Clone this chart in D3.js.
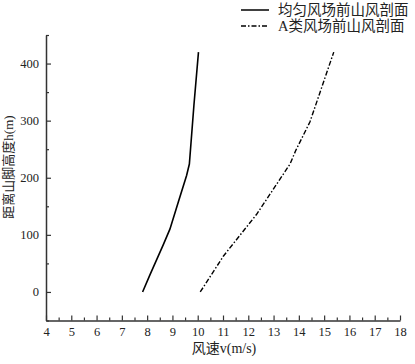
<!DOCTYPE html>
<html>
<head>
<meta charset="utf-8">
<script src="https://cdn.jsdelivr.net/npm/d3@7"></script>
<style>
  body { margin: 0; background: #fff; }
</style>
</head>
<body>
<div id="chart"></div>
<script>
// 数据
const seriesNames = ["均匀风场前山风剖面", "A类风场前山风剖面"];
const uniformV = [7.82, 8.11, 8.64, 8.90, 9.23, 9.56, 9.67, 9.85, 10.03];
const uniformH = [0, 30, 83, 110, 157, 204, 224, 327, 420];
const classAV = [10.1, 11.02, 12.33, 13.65, 13.88, 14.44, 15.38];
const classAH = [0, 63, 136, 224, 248, 298, 420];
const xTicks = [4, 5, 6, 7, 8, 9, 10, 11, 12, 13, 14, 15, 16, 17, 18];
const yTicks = [0, 100, 200, 300, 400];

const width = 415, height = 364;
const serif = "'Liberation Serif', 'Times New Roman', 'DejaVu Serif', 'Noto Sans CJK SC', serif";

const svg = d3.select("#chart").append("svg")
    .attr("width", width)
    .attr("height", height);

// 比例尺
const x = d3.scaleLinear().domain([4, 18]).range([46, 400]);
const y = d3.scaleLinear().domain([-50, 450]).range([320.5, 35]);

// 次刻度
const xMinor = d3.range(4.5, 18, 1);
const yMinor = d3.range(-50, 451, 100);

svg.append("g")
    .attr("transform", `translate(0, ${y(-50)})`)
    .call(d3.axisBottom(x).tickValues(xMinor).tickSize(-3).tickFormat(""))
    .call(g => g.select(".domain").remove())
    .selectAll("line").attr("stroke", "#333").attr("stroke-width", 1.2);

svg.append("g")
    .attr("transform", `translate(${x(4)}, 0)`)
    .call(d3.axisLeft(y).tickValues(yMinor).tickSize(-3).tickFormat(""))
    .call(g => g.select(".domain").remove())
    .selectAll("line").attr("stroke", "#333").attr("stroke-width", 1.2);

// 主坐标轴
const xAxis = svg.append("g")
    .attr("transform", `translate(0, ${y(-50)})`)
    .call(d3.axisBottom(x).tickValues(xTicks).tickSize(-5).tickSizeOuter(0).tickPadding(7));

const yAxis = svg.append("g")
    .attr("transform", `translate(${x(4)}, 0)`)
    .call(d3.axisLeft(y).tickValues(yTicks).tickSize(-5).tickSizeOuter(0).tickPadding(7));

[xAxis, yAxis].forEach(g => {
    g.attr("font-family", serif);
    g.select(".domain").attr("stroke", "#333").attr("stroke-width", 1.5);
    g.selectAll(".tick line").attr("stroke", "#333").attr("stroke-width", 1.2);
    g.selectAll(".tick text")
        .style("font-family", serif)
        .attr("font-size", 12.5)
        .attr("fill", "#222");
});

// 曲线
const line = d3.line().x(d => x(d[0])).y(d => y(d[1]));

svg.append("path")
    .datum(d3.zip(uniformV, uniformH))
    .attr("d", line)
    .attr("fill", "none")
    .attr("stroke", "#000")
    .attr("stroke-width", 1.6);

svg.append("path")
    .datum(d3.zip(classAV, classAH))
    .attr("d", line)
    .attr("fill", "none")
    .attr("stroke", "#000")
    .attr("stroke-width", 1.4)
    .attr("stroke-dasharray", "5,2,1.5,2");

// 坐标轴标题
svg.append("text")
    .attr("x", 224)
    .attr("y", 353)
    .attr("text-anchor", "middle")
    .style("font-family", serif)
    .attr("font-size", 14)
    .attr("fill", "#222")
    .text("风速v(m/s)");

svg.append("text")
    .attr("transform", `translate(13, 167) rotate(-90)`)
    .attr("text-anchor", "middle")
    .style("font-family", serif)
    .attr("font-size", 13)
    .attr("fill", "#222")
    .text("距离山脚高度h(m)");

// 图例
const legend = svg.append("g").attr("transform", "translate(241, 0)");
const dashes = [null, "5,2,1.5,2"];
seriesNames.forEach((name, i) => {
    const row = legend.append("g").attr("transform", `translate(0, ${10 + i * 16})`);
    row.append("line")
        .attr("x1", 0).attr("x2", 28)
        .attr("stroke", "#000")
        .attr("stroke-width", 1.5)
        .attr("stroke-dasharray", dashes[i]);
    row.append("text")
        .attr("x", 37)
        .attr("dy", "0.35em")
        .style("font-family", serif)
        .attr("font-size", 14.5)
        .attr("fill", "#222")
        .text(name);
});
</script>
</body>
</html>
